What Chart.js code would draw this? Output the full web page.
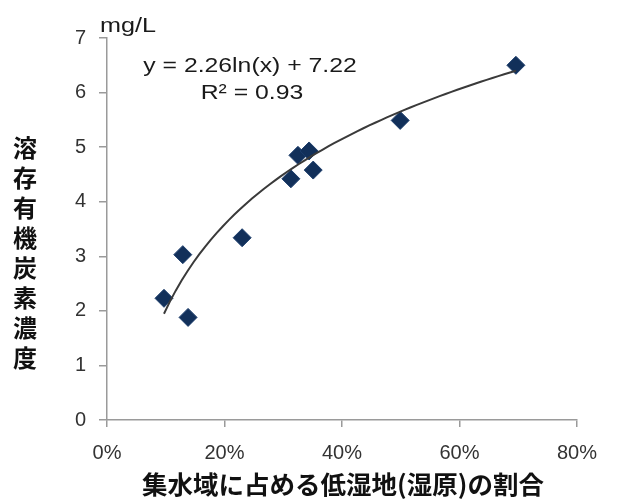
<!DOCTYPE html>
<html>
<head>
<meta charset="utf-8">
<script src="https://cdn.jsdelivr.net/npm/chart.js@4"></script>
<style>
html,body{margin:0;padding:0;background:#fff;}
#wrap{position:relative;width:617px;height:500px;}
</style>
</head>
<body>
<div id="wrap"><canvas id="c" width="617" height="500"></canvas></div>
<script>
// Data
const wetlandShare = [0.097, 0.129, 0.138, 0.230, 0.313, 0.325, 0.344, 0.351, 0.499, 0.696];
const docConc      = [2.23, 3.03, 1.88, 3.34, 4.42, 4.85, 4.93, 4.58, 5.49, 6.50];
const xTicks = [0, 0.2, 0.4, 0.6, 0.8];
const yTicks = [0, 1, 2, 3, 4, 5, 6, 7];
const trendA = 2.26, trendB = 7.22;       // y = 2.26 ln(x) + 7.22
const eqText = 'y = 2.26ln(x) + 7.22';
const r2Text = 'R² = 0.93';
const unitText = 'mg/L';
const yTitleChars = ['溶','存','有','機','炭','素','濃','度'];
const xTitleText = '集水域に占める低湿地(湿原)の割合';

const points = wetlandShare.map((x, i) => ({x: x, y: docConc[i]}));
const xMin = Math.min(...wetlandShare), xMax = Math.max(...wetlandShare);
const trend = [];
for (let i = 0; i <= 60; i++) {
  const x = xMin + (xMax - xMin) * i / 60;
  trend.push({x: x, y: trendA * Math.log(x) + trendB});
}

function stretchText(ctx, text, x, y, sx, align) {
  ctx.save();
  ctx.translate(x, y);
  ctx.scale(sx, 1);
  ctx.textAlign = align;
  ctx.fillText(text, 0, 0);
  ctx.restore();
}

const textPlugin = {
  id: 'texts',
  afterDraw(chart) {
    const ctx = chart.ctx;
    ctx.save();
    ctx.fillStyle = '#1a1a1a';
    ctx.textBaseline = 'middle';
    ctx.font = '21px "Liberation Sans", Arial, sans-serif';
    stretchText(ctx, unitText, 100, 26, 1.2, 'left');
    stretchText(ctx, eqText, 250, 66, 1.18, 'center');
    stretchText(ctx, r2Text, 252, 93, 1.18, 'center');
    ctx.font = 'bold 24px "Noto Sans CJK JP", sans-serif';
    ctx.fillStyle = '#111';
    ctx.textAlign = 'center';
    yTitleChars.forEach((ch, i) => ctx.fillText(ch, 25, 148 + i * 30));
    ctx.font = 'bold 25.5px "Noto Sans CJK JP", sans-serif';
    ctx.fillText(xTitleText, 343, 484);
    ctx.restore();
  }
};

new Chart(document.getElementById('c'), {
  type: 'scatter',
  data: {
    datasets: [
      {
        data: trend, showLine: true, pointRadius: 0, borderColor: '#3a3a3a',
        borderWidth: 2, tension: 0, order: 0, fill: false
      },
      {
        data: points, pointStyle: 'rectRot', pointRadius: 9,
        backgroundColor: '#12305a', borderColor: '#1c3d6b', borderWidth: 1, order: 1
      }
    ]
  },
  options: {
    responsive: false,
    animation: false,
    devicePixelRatio: 1,
    layout: {padding: {left: 0, right: 40, top: 38, bottom: 0}},
    plugins: {legend: {display: false}, tooltip: {enabled: false}},
    scales: {
      x: {
        type: 'linear', min: 0, max: 0.8,
        afterFit(s) { s.height = 80; },
        afterBuildTicks(s) { s.ticks = xTicks.map(v => ({value: v})); },
        border: {color: '#9a9a9a', width: 1.5},
        grid: {drawOnChartArea: false, tickLength: 7, color: '#9a9a9a', lineWidth: 1.5},
        ticks: {
          padding: 14, color: '#333',
          font: {family: '"Liberation Sans", Arial, sans-serif', size: 20},
          callback: v => Math.round(v * 100) + '%', maxRotation: 0
        }
      },
      y: {
        type: 'linear', min: 0, max: 7,
        afterFit(s) { s.width = 107; },
        afterBuildTicks(s) { s.ticks = yTicks.map(v => ({value: v})); },
        border: {color: '#9a9a9a', width: 1.5},
        grid: {drawOnChartArea: false, tickLength: 8, color: '#9a9a9a', lineWidth: 1.5},
        ticks: {
          padding: 13, color: '#333',
          font: {family: '"Liberation Sans", Arial, sans-serif', size: 20}
        }
      }
    }
  },
  plugins: [textPlugin]
});
</script>
</body>
</html>
